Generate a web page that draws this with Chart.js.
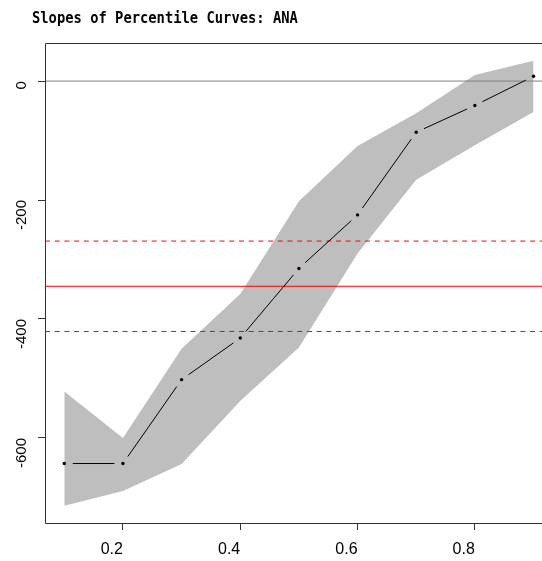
<!DOCTYPE html>
<html>
<head>
<meta charset="utf-8">
<script src="https://cdn.jsdelivr.net/npm/chart.js@4/dist/chart.umd.min.js"></script>
<style>
  html, body { margin: 0; padding: 0; background: #fff; }
  #wrap { width: 542px; height: 561px; position: relative; }
</style>
</head>
<body>
<div id="wrap"><canvas id="slopeChart"></canvas></div>
<script>
// Slopes of percentile curves
const percentiles = [0.1, 0.2, 0.3, 0.4, 0.5, 0.6, 0.7, 0.8, 0.9];
const slopeEst = [-643, -643, -502, -432, -315, -225, -86, -41, 8];
const bandHigh = [-522, -600, -450, -358, -202, -109, -54, 10, 34];
const bandLow = [-714, -689, -644, -538, -448, -290, -166, -108, -52];
const refSolid = -345;
const refDashHigh = -269;
const refDashLow = -421;
const zeroLine = 0;
const xTicks = [0.2, 0.4, 0.6, 0.8];
const yTicks = [0, -200, -400, -600];
const xLimits = [0.0671, 0.9145];
const yLimits = [-743, 64];
const titleText = 'Slopes of Percentile Curves: ANA';

const toPoints = (ys) => ys.map((y, i) => ({ x: percentiles[i], y: y }));
const hLine = (y) => [{ x: xLimits[0], y: y }, { x: xLimits[1], y: y }];

// R type="b": segments stop short of each point
const gappedLine = {
  id: 'gappedLine',
  afterDatasetsDraw(chart) {
    const { ctx, scales } = chart;
    const gap = 8.5;
    ctx.save();
    ctx.strokeStyle = '#000';
    ctx.lineWidth = 1;
    for (let i = 0; i < percentiles.length - 1; i++) {
      const x1 = scales.x.getPixelForValue(percentiles[i]);
      const y1 = scales.y.getPixelForValue(slopeEst[i]);
      const x2 = scales.x.getPixelForValue(percentiles[i + 1]);
      const y2 = scales.y.getPixelForValue(slopeEst[i + 1]);
      const len = Math.hypot(x2 - x1, y2 - y1);
      if (len <= gap * 2) continue;
      const ux = (x2 - x1) / len;
      const uy = (y2 - y1) / len;
      ctx.beginPath();
      ctx.moveTo(x1 + ux * gap, y1 + uy * gap);
      ctx.lineTo(x2 - ux * gap, y2 - uy * gap);
      ctx.stroke();
    }
    ctx.restore();
  },
};

const frameAndText = {
  id: 'frameAndText',
  afterDraw(chart) {
    const { ctx, chartArea, scales } = chart;
    ctx.save();
    // box (right side falls outside the picture)
    ctx.strokeStyle = '#333';
    ctx.lineWidth = 1;
    ctx.beginPath();
    ctx.moveTo(chart.width, chartArea.top + 0.5);
    ctx.lineTo(chartArea.left + 0.5, chartArea.top + 0.5);
    ctx.lineTo(chartArea.left + 0.5, chartArea.bottom + 0.5);
    ctx.lineTo(chart.width, chartArea.bottom + 0.5);
    ctx.stroke();
    // y labels, parallel to the axis, ending at the tick
    ctx.fillStyle = '#000';
    ctx.font = '15px "Liberation Sans", Arial, sans-serif';
    ctx.textAlign = 'right';
    ctx.textBaseline = 'alphabetic';
    yTicks.forEach((v) => {
      const py = scales.y.getPixelForValue(v);
      ctx.save();
      ctx.translate(26, py);
      ctx.rotate(-Math.PI / 2);
      ctx.fillText(String(v), 0, 0);
      ctx.restore();
    });
    // title
    ctx.font = 'bold 15px "DejaVu Sans Mono", monospace';
    ctx.textAlign = 'left';
    ctx.translate(32, 23);
    ctx.scale(0.92, 1);
    ctx.fillText(titleText, 0, 0);
    ctx.restore();
  },
};

const ctx = document.getElementById('slopeChart').getContext('2d');
new Chart(ctx, {
  type: 'line',
  data: {
    datasets: [
      {
        label: 'estimate',
        data: toPoints(slopeEst),
        showLine: false,
        pointRadius: 1.7,
        pointBackgroundColor: '#000',
        pointBorderWidth: 0,
        order: 0,
      },
      {
        label: 'zero',
        data: hLine(zeroLine),
        borderColor: '#808080',
        borderWidth: 1,
        pointRadius: 0,
        order: 1,
      },
      {
        label: 'mean',
        data: hLine(refSolid),
        borderColor: '#ff0000',
        borderWidth: 1,
        pointRadius: 0,
        order: 1,
      },
      {
        label: 'upper',
        data: hLine(refDashHigh),
        borderColor: '#ff0000',
        borderWidth: 1,
        borderDash: [5, 4.7],
        pointRadius: 0,
        order: 1,
      },
      {
        label: 'lower',
        data: hLine(refDashLow),
        borderColor: '#ff0000',
        borderWidth: 1,
        borderDash: [5, 4.7],
        pointRadius: 0,
        order: 1,
      },
      {
        label: 'band high',
        data: toPoints(bandHigh),
        borderWidth: 0,
        borderColor: 'rgba(0,0,0,0)',
        backgroundColor: '#bebebe',
        pointRadius: 0,
        fill: '+1',
        order: 2,
      },
      {
        label: 'band low',
        data: toPoints(bandLow),
        borderWidth: 0,
        borderColor: 'rgba(0,0,0,0)',
        pointRadius: 0,
        fill: false,
        order: 2,
      },
    ],
  },
  options: {
    responsive: true,
    maintainAspectRatio: false,
    animation: false,
    layout: { autoPadding: false, padding: { top: 43, right: 0, bottom: 0, left: 0 } },
    plugins: {
      legend: { display: false },
      tooltip: { enabled: false },
    },
    scales: {
      x: {
        type: 'linear',
        min: xLimits[0],
        max: xLimits[1],
        afterBuildTicks: (scale) => {
          scale.ticks = xTicks.map((v) => ({ value: v }));
        },
        afterFit: (scale) => {
          scale.height = 38;
          scale.paddingLeft = 0;
          scale.paddingRight = 0;
        },
        border: { display: false },
        grid: {
          drawOnChartArea: false,
          drawTicks: true,
          tickLength: 7,
          color: '#333',
        },
        ticks: {
          align: 'end',
          padding: 10,
          color: '#000',
          font: { family: '"Liberation Sans", Arial, sans-serif', size: 16 },
          callback: (v) => v.toFixed(1),
        },
      },
      y: {
        type: 'linear',
        min: yLimits[0],
        max: yLimits[1],
        afterBuildTicks: (scale) => {
          scale.ticks = yTicks.map((v) => ({ value: v }));
        },
        afterFit: (scale) => {
          scale.width = 45;
          scale.paddingTop = 0;
          scale.paddingBottom = 0;
        },
        border: { display: false },
        grid: {
          drawOnChartArea: false,
          drawTicks: true,
          tickLength: 7,
          color: '#333',
        },
        ticks: { display: false },
      },
    },
  },
  plugins: [gappedLine, frameAndText],
});
</script>
</body>
</html>
